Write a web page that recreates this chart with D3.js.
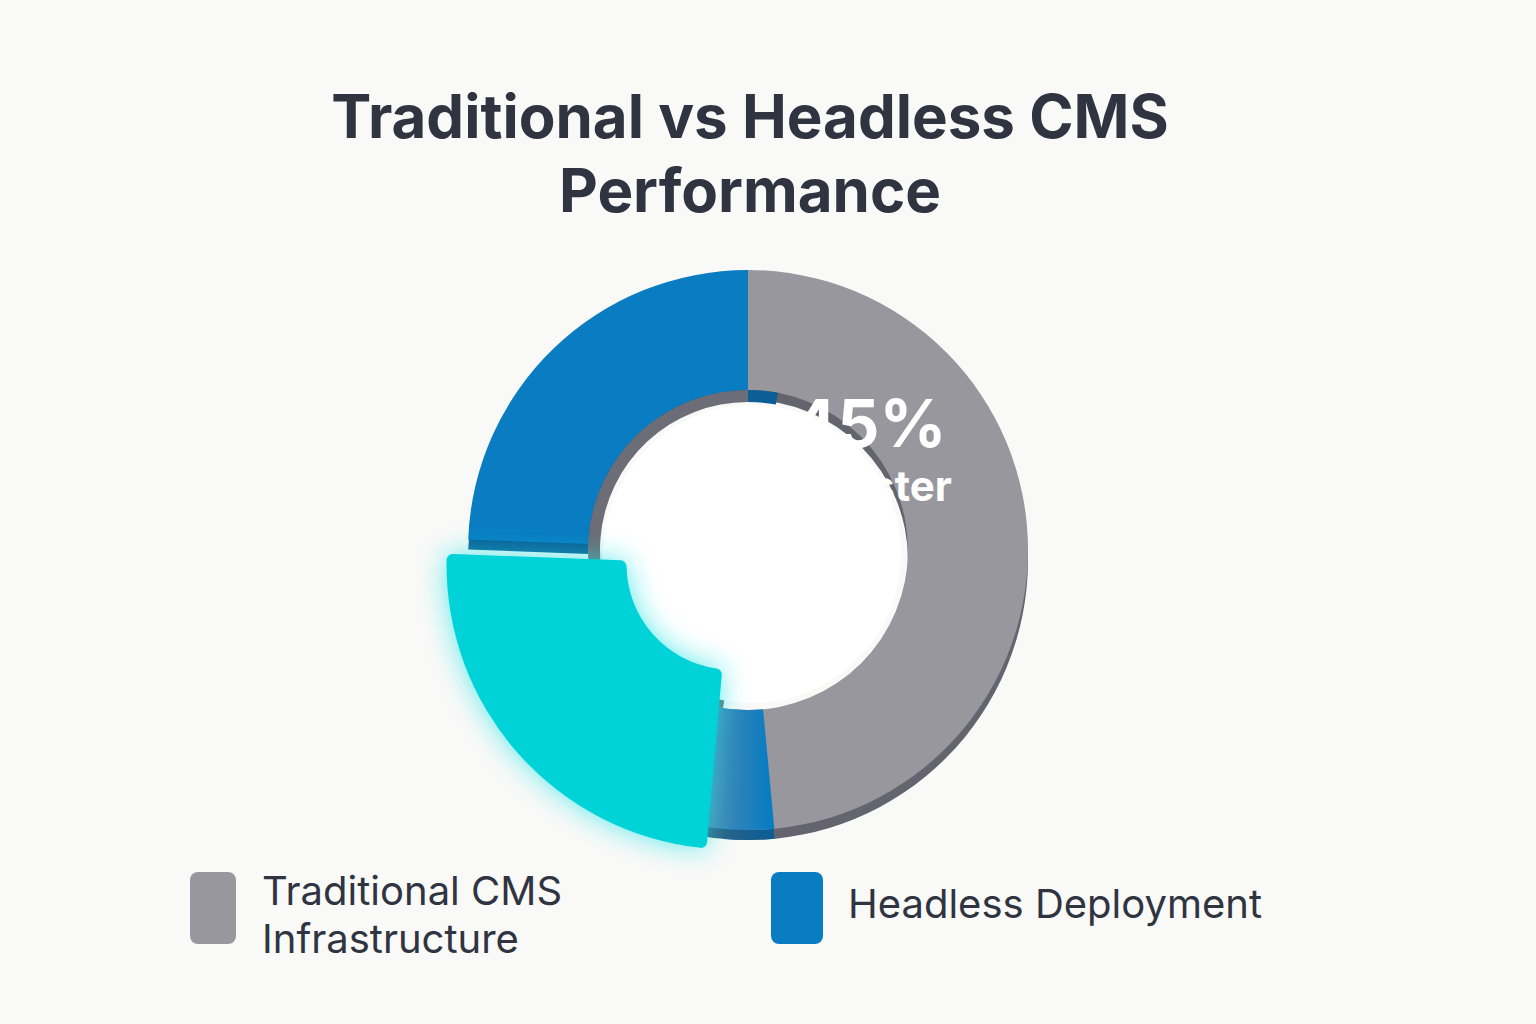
<!DOCTYPE html>
<html><head><meta charset="utf-8">
<script src="https://cdn.jsdelivr.net/npm/d3@7"></script>
<style>body{margin:0;background:#f9f9f8}</style></head>
<body><svg id="c" width="1536" height="1024"></svg>
<script>
const titleLines = ["Traditional vs Headless CMS", "Performance"];
const segments = ["Traditional CMS Infrastructure", "Headless Deployment", "Headless Highlight", "Headless Deployment"];
const segmentValues = [50, 1.4, 24.2, 24.4];
const segmentSeries = ["trad", "head", "hi", "head"];
const calloutLines = ["45%", "faster"];
const legendLabels = [["Traditional CMS", "Infrastructure"], ["Headless Deployment"]];

const svg = d3.select("#c");
const defs = svg.append("defs");
const g = defs.append("linearGradient").attr("id","gb").attr("gradientUnits","userSpaceOnUse")
  .attr("x1",-100).attr("x2",20).attr("y1",0).attr("y2",0);
g.append("stop").attr("offset",0).attr("stop-color","#98979e");
g.append("stop").attr("offset",1).attr("stop-color","#0a7cc2");
const gd = defs.append("linearGradient").attr("id","gbd").attr("gradientUnits","userSpaceOnUse")
  .attr("x1",-100).attr("x2",20).attr("y1",0).attr("y2",0);
gd.append("stop").attr("offset",0).attr("stop-color","#62646e");
gd.append("stop").attr("offset",1).attr("stop-color","#0b5e96");
const f = defs.append("filter").attr("id","glow").attr("x","-50%").attr("y","-50%").attr("width","200%").attr("height","200%");
f.append("feGaussianBlur").attr("stdDeviation",14);

svg.selectAll("text.t").data(titleLines).join("text").attr("class","t")
  .attr("x",750).attr("y",(d,i)=>138+i*74).attr("text-anchor","middle")
  .attr("font-family","Inter, Lato, sans-serif").attr("font-weight",700).attr("font-size",60)
  .attr("fill","#2f3440").text(d=>d);

const cx=748, cy=550, R=280, r=160;
const pie = d3.pie().sort(null).value(d=>d)(segmentValues);
const arc = d3.arc().innerRadius(r).outerRadius(R);
const fill = {trad:"#98979e", head:"#0a7cc2", hi:"#00d3d8"};
const dark = {trad:"#63646d", head:"#0b5e96", hi:"#00a8b0"};
const bottomArc = d3.arc().innerRadius(r).outerRadius(R).startAngle(Math.PI*0.97).endAngle(Math.PI*1.35);

// depth layer
const depth = svg.append("g").attr("transform",`translate(${cx},${cy+10})`);
depth.selectAll("path").data(pie.filter((d,i)=>segmentSeries[i]!=="hi")).join("path")
  .attr("d",arc).attr("fill",d=>dark[segmentSeries[d.index]]);
depth.append("path").attr("d",bottomArc()).attr("fill","url(#gbd)");

const face = svg.append("g").attr("transform",`translate(${cx},${cy})`);
face.selectAll("path.s").data(pie.filter((d,i)=>segmentSeries[i]!=="hi")).join("path").attr("class","s")
  .attr("d",arc).attr("fill",d=>fill[segmentSeries[d.index]]);
face.append("path").attr("d",bottomArc()).attr("fill","url(#gb)");
// inner rim shadow
face.append("path").attr("d",d3.arc().innerRadius(r-12).outerRadius(r).startAngle(-Math.PI*0.95).endAngle(0)())
  .attr("fill","#6c6d76");
face.append("path").attr("d",d3.arc().innerRadius(r-12).outerRadius(r).startAngle(0).endAngle(Math.PI*0.06)())
  .attr("fill","#0b5e96");
face.append("circle").attr("r",r-11).attr("cx",4).attr("cy",4).attr("fill","#ffffff");

// highlighted exploded slice
const hi = pie[2];
const mid = (hi.startAngle+hi.endAngle)/2, off=22;
const hg = face.append("g").attr("transform",`translate(${Math.sin(mid)*off},${-Math.cos(mid)*off})`);
const hiArc = d3.arc().innerRadius(r-55).outerRadius(R+5).cornerRadius(6);
hg.append("path").attr("d",hiArc(hi)).attr("fill","#1de3e6").attr("filter","url(#glow)").attr("opacity",0.7);
hg.append("path").attr("d",hiArc(hi)).attr("fill","#00d3d8");
hg.selectAll("text").data(calloutLines).join("text")
  .attr("x",(d,i)=>i?160:138).attr("y",(d,i)=>i?-64:-118)
  .attr("text-anchor","middle").attr("fill","#fff").attr("font-family","Inter, Lato, sans-serif")
  .attr("font-weight",700).attr("font-size",(d,i)=>i?42:66).text(d=>d);

// legend
const lg = [{x:190,c:"#98979e",tx:262,w:46},{x:771,c:"#0a7cc2",tx:848,w:52}];
lg.forEach((l,i)=>{
  svg.append("rect").attr("x",l.x).attr("y",872).attr("width",l.w).attr("height",72).attr("rx",8).attr("fill",l.c);
  const lines = legendLabels[i];
  svg.selectAll(null).data(lines).join("text").attr("x",l.tx)
    .attr("y",(d,j)=> lines.length>1 ? 905+j*48 : 918)
    .attr("font-family","Inter, Lato, sans-serif").attr("font-size",40).attr("fill","#2f3440").text(d=>d);
});
</script></body></html>
